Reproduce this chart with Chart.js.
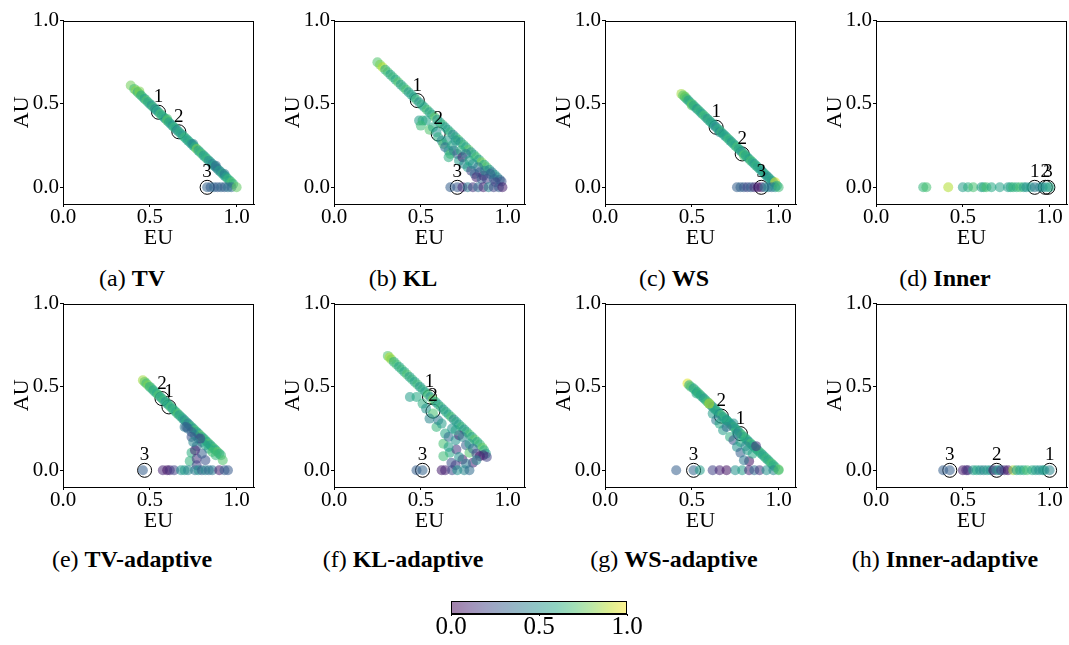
<!DOCTYPE html>
<html>
<head>
<meta charset="utf-8">
<script src="https://cdn.jsdelivr.net/npm/chart.js@4.4.0/dist/chart.umd.min.js"></script>
<style>
  html, body { margin: 0; padding: 0; background: #fff; overflow: hidden; }
  #page { position: relative; width: 1069px; height: 645px; }
  canvas { position: absolute; }
  .cap { position: absolute; width: 260px; text-align: center; font-family: "Liberation Serif", serif;
         font-size: 24px; line-height: 24px; color: #000; white-space: nowrap; }
</style>
</head>
<body>
<div id="page"></div>
<script>
// ---- data: [EU, AU, colour value] per point; marks are the circled samples 1, 2, 3 ----
const axisTicks = [0, 0.5, 1.0];
const colorbarTicks = [0, 0.5, 1.0];

const tvPts = [
  [0.39,0.61,0.78],[0.41,0.59,0.7],[0.42,0.58,0.82],[0.43,0.57,0.62],[0.44,0.56,0.75],[0.44,0.575,0.8],
  [0.45,0.55,0.6],[0.46,0.54,0.68],[0.47,0.53,0.55],[0.48,0.52,0.72],[0.49,0.51,0.58],[0.5,0.5,0.64],
  [0.51,0.49,0.5],[0.52,0.48,0.66],[0.53,0.47,0.45],[0.54,0.46,0.6],[0.55,0.45,0.52],[0.56,0.44,0.7],
  [0.57,0.43,0.58],[0.58,0.42,0.62],[0.59,0.41,0.48],[0.6,0.4,0.74],[0.6,0.41,0.7],[0.61,0.39,0.55],
  [0.62,0.38,0.6],[0.63,0.37,0.5],[0.64,0.36,0.66],[0.65,0.35,0.56],[0.66,0.34,0.45],[0.67,0.33,0.62],
  [0.68,0.32,0.58],[0.69,0.31,0.52],[0.7,0.3,0.66],[0.71,0.29,0.6],[0.72,0.28,0.55],[0.73,0.27,0.62],
  [0.74,0.26,0.5],[0.75,0.25,0.58],[0.75,0.26,0.45],[0.76,0.24,0.64],[0.77,0.23,0.8],[0.78,0.22,0.56],
  [0.79,0.21,0.62],[0.8,0.2,0.7],[0.81,0.19,0.52],[0.82,0.18,0.6],[0.83,0.17,0.66],[0.84,0.16,0.48],
  [0.85,0.15,0.55],[0.86,0.14,0.42],[0.87,0.13,0.6],[0.88,0.12,0.5],[0.88,0.13,0.35],[0.89,0.11,0.38],
  [0.9,0.1,0.56],[0.91,0.09,0.45],[0.92,0.08,0.62],[0.93,0.07,0.52],[0.93,0.08,0.4],[0.94,0.06,0.58],
  [0.95,0.05,0.66],[0.96,0.04,0.6],[0.97,0.03,0.72],[0.98,0.02,0.64],
  [0.83,0,0.32],[0.85,0,0.3],[0.87,0,0.35],[0.89,0,0.28],[0.91,0,0.33],[0.93,0,0.3],[0.95,0,0.38],
  [0.97,0,0.34],[1.0,0,0.75]
];
const tvMarks = [[0.55,0.45],[0.667,0.333],[0.83,0]];

const klPts = [
  [0.25,0.75,0.72],[0.265,0.735,0.8],[0.28,0.72,0.88],[0.295,0.705,0.62],[0.31,0.69,0.7],[0.325,0.675,0.58],
  [0.34,0.66,0.66],[0.355,0.645,0.6],[0.37,0.63,0.72],[0.385,0.615,0.55],[0.4,0.6,0.64],[0.415,0.585,0.7],
  [0.43,0.57,0.52],[0.445,0.555,0.6],[0.46,0.54,0.56],[0.475,0.525,0.66],[0.49,0.51,0.48],[0.505,0.495,0.62],
  [0.52,0.48,0.58],[0.535,0.465,0.7],[0.55,0.45,0.55],[0.565,0.435,0.62],[0.58,0.42,0.74],[0.595,0.405,0.5],
  [0.61,0.39,0.6],[0.625,0.375,0.66],[0.64,0.36,0.52],[0.655,0.345,0.58],[0.67,0.33,0.64],[0.685,0.315,0.45],
  [0.7,0.3,0.6],[0.715,0.285,0.7],[0.73,0.27,0.52],[0.745,0.255,0.66],[0.76,0.24,0.58],[0.775,0.225,0.74],
  [0.79,0.21,0.5],[0.805,0.195,0.62],[0.82,0.18,0.7],[0.835,0.165,0.56],[0.85,0.15,0.8],[0.865,0.135,0.6],
  [0.88,0.12,0.72],[0.895,0.105,0.5],[0.91,0.09,0.4],[0.925,0.075,0.55],[0.94,0.06,0.45],[0.955,0.045,0.35],
  [0.965,0.035,0.25],
  [0.49,0.4,0.55],[0.51,0.4,0.62],[0.53,0.4,0.58],[0.5,0.37,0.68],[0.55,0.345,0.72],[0.57,0.36,0.6],
  [0.59,0.33,0.5],[0.6,0.3,0.62],[0.62,0.28,0.45],[0.63,0.26,0.7],[0.65,0.28,0.55],[0.64,0.24,0.35],
  [0.66,0.22,0.5],[0.67,0.2,0.7],[0.68,0.25,0.6],[0.69,0.22,0.4],[0.7,0.28,0.5],[0.71,0.2,0.3],
  [0.72,0.16,0.55],[0.73,0.22,0.62],[0.74,0.18,0.1],[0.75,0.14,0.45],[0.76,0.2,0.4],[0.77,0.12,0.55],
  [0.78,0.16,0.6],[0.79,0.1,0.2],[0.8,0.14,0.5],[0.81,0.08,0.35],[0.82,0.06,0.1],[0.83,0.12,0.4],
  [0.84,0.09,0.25],[0.85,0.05,0.3],[0.86,0.07,0.15],[0.87,0.1,0.45],[0.88,0.05,0.2],[0.9,0.08,0.3],
  [0.92,0.05,0.35],[0.93,0.03,0.2],[0.66,0.18,0.62],
  [0.67,0,0.3],[0.71,0,0.28],[0.74,0,0.12],[0.77,0,0.4],[0.8,0,0.15],[0.83,0,0.35],[0.86,0,0.1],
  [0.89,0,0.45],[0.92,0,0.2],[0.95,0,0.3],[0.97,0,0.08]
];
const klMarks = [[0.48,0.52],[0.6,0.32],[0.71,0]];

const wsPts = [
  [0.44,0.56,0.85],[0.45,0.55,0.72],[0.46,0.54,0.6],[0.46,0.545,0.8],[0.47,0.53,0.68],[0.48,0.52,0.55],
  [0.49,0.51,0.62],[0.5,0.5,0.7],[0.5,0.49,0.75],[0.51,0.49,0.58],[0.52,0.48,0.64],[0.53,0.47,0.5],
  [0.54,0.46,0.66],[0.55,0.45,0.6],[0.56,0.44,0.55],[0.57,0.43,0.7],[0.58,0.42,0.62],[0.59,0.41,0.48],
  [0.6,0.4,0.64],[0.61,0.39,0.56],[0.62,0.38,0.6],[0.63,0.37,0.52],[0.64,0.36,0.45],[0.65,0.35,0.62],
  [0.66,0.34,0.58],[0.66,0.33,0.45],[0.67,0.33,0.66],[0.68,0.32,0.5],[0.69,0.31,0.6],[0.7,0.3,0.55],
  [0.71,0.29,0.68],[0.72,0.28,0.6],[0.73,0.27,0.52],[0.74,0.26,0.64],[0.75,0.25,0.58],[0.76,0.24,0.7],
  [0.77,0.23,0.55],[0.78,0.22,0.6],[0.79,0.21,0.5],[0.8,0.2,0.66],[0.8,0.19,0.72],[0.81,0.19,0.58],
  [0.82,0.18,0.62],[0.83,0.17,0.55],[0.84,0.16,0.7],[0.85,0.15,0.6],[0.86,0.14,0.52],[0.87,0.13,0.64],
  [0.88,0.12,0.58],[0.89,0.11,0.6],[0.9,0.1,0.55],[0.91,0.09,0.5],[0.92,0.08,0.62],[0.93,0.07,0.56],
  [0.94,0.06,0.45],[0.95,0.05,0.6],[0.96,0.04,0.55],[0.97,0.03,0.52],[0.98,0.03,0.95],[0.99,0.01,0.6],
  [0.76,0,0.3],[0.78,0,0.32],[0.8,0,0.28],[0.82,0,0.22],[0.84,0,0.3],[0.86,0,0.15],[0.88,0,0.05],
  [0.9,0,0.08],[0.92,0,0.4],[0.94,0,0.45],[0.96,0,0.35],[0.98,0,0.5],[1.0,0,0.68]
];
const wsMarks = [[0.64,0.36],[0.79,0.2],[0.9,0]];

const innerPts = [
  [0.272,0,0.65],[0.29,0,0.7],[0.416,0,0.88],[0.5,0,0.55],[0.53,0,0.62],[0.56,0,0.7],[0.607,0,0.55],
  [0.62,0,0.62],[0.636,0,0.7],[0.665,0,0.6],[0.713,0,0.58],[0.76,0,0.55],[0.775,0,0.6],[0.79,0,0.65],
  [0.81,0,0.62],[0.83,0,0.7],[0.85,0,0.58],[0.866,0,0.5],[0.89,0,0.55],[0.914,0,0.4],[0.943,0,0.45],
  [0.96,0,0.5],[0.98,0,0.5],[1.0,0,0.6]
];
const innerMarks = [[0.914,0],[0.975,0],[0.99,0]];

const tvAdPts = [
  [0.46,0.54,0.85],[0.47,0.53,0.75],[0.48,0.52,0.68],[0.49,0.51,0.8],[0.5,0.5,0.62],[0.51,0.49,0.7],
  [0.52,0.48,0.58],[0.53,0.47,0.66],[0.54,0.46,0.6],[0.55,0.45,0.72],[0.56,0.44,0.55],[0.57,0.43,0.62],
  [0.58,0.42,0.68],[0.59,0.41,0.5],[0.6,0.4,0.64],[0.61,0.39,0.58],[0.62,0.38,0.7],[0.63,0.37,0.55],
  [0.64,0.36,0.66],[0.65,0.35,0.6],[0.66,0.34,0.72],[0.67,0.33,0.52],[0.68,0.32,0.64],[0.69,0.31,0.58],
  [0.7,0.3,0.45],[0.71,0.29,0.62],[0.72,0.28,0.4],[0.73,0.27,0.56],[0.74,0.26,0.66],[0.75,0.25,0.5],
  [0.76,0.24,0.7],[0.77,0.23,0.6],[0.78,0.22,0.55],[0.79,0.21,0.75],[0.8,0.2,0.62],[0.81,0.19,0.58],
  [0.82,0.18,0.68],[0.83,0.17,0.6],[0.84,0.16,0.72],[0.85,0.15,0.55],[0.86,0.14,0.64],[0.87,0.13,0.7],
  [0.88,0.12,0.58],[0.89,0.11,0.75],[0.9,0.1,0.62],[0.91,0.09,0.66],[0.92,0.06,0.72],
  [0.7,0.26,0.4],[0.72,0.25,0.35],[0.74,0.23,0.3],[0.76,0.21,0.45],[0.78,0.19,0.4],[0.8,0.17,0.62],
  [0.82,0.15,0.55],[0.84,0.13,0.6],[0.86,0.11,0.7],[0.88,0.09,0.66],
  [0.71,0.26,0.3],[0.74,0.2,0.25],[0.77,0.145,0.32],[0.79,0.19,0.2],[0.74,0.105,0.62],[0.73,0.055,0.64],
  [0.77,0.07,0.15],[0.8,0.1,0.3],[0.77,0.03,0.2],[0.76,0.12,0.1],[0.82,0.06,0.25],[0.75,0.17,0.45],
  [0.46,0,0.3],[0.575,0,0.1],[0.6,0,0.05],[0.615,0,0.12],[0.64,0,0.2],[0.68,0,0.5],[0.7,0,0.55],
  [0.72,0,0.45],[0.76,0,0.4],[0.78,0,0.5],[0.8,0,0.3],[0.82,0,0.45],[0.84,0,0.35],[0.86,0,0.4],
  [0.9,0,0.08],[0.93,0,0.3],[0.95,0,0.28]
];
const tvAdMarks = [[0.61,0.38],[0.57,0.43],[0.47,0]];

const klAdPts = [
  [0.31,0.686,0.72],[0.32,0.676,0.88],[0.33,0.665,0.8],[0.345,0.65,0.62],[0.36,0.635,0.7],[0.375,0.62,0.58],
  [0.39,0.605,0.66],[0.405,0.59,0.6],[0.42,0.575,0.72],[0.435,0.56,0.55],[0.45,0.545,0.64],[0.465,0.53,0.58],
  [0.48,0.515,0.68],[0.495,0.5,0.52],[0.51,0.485,0.62],[0.525,0.47,0.56],[0.54,0.455,0.7],[0.555,0.44,0.5],
  [0.57,0.425,0.78],[0.585,0.41,0.6],[0.6,0.395,0.54],[0.615,0.38,0.66],[0.63,0.365,0.5],[0.645,0.35,0.62],
  [0.66,0.335,0.58],[0.675,0.32,0.7],[0.69,0.305,0.45],[0.705,0.29,0.6],[0.72,0.275,0.55],[0.735,0.26,0.66],
  [0.75,0.245,0.5],[0.765,0.23,0.62],[0.78,0.215,0.7],[0.795,0.2,0.58],[0.81,0.185,0.74],[0.825,0.17,0.6],
  [0.84,0.155,0.66],[0.855,0.135,0.75],[0.865,0.12,0.62],[0.875,0.1,0.55],[0.88,0.08,0.2],
  [0.437,0.44,0.55],[0.475,0.44,0.6],[0.51,0.4,0.62],[0.53,0.37,0.5],[0.57,0.34,0.7],[0.55,0.31,0.45],
  [0.59,0.26,0.65],[0.6,0.3,0.4],[0.62,0.28,0.55],[0.64,0.22,0.6],[0.63,0.16,0.7],[0.66,0.2,0.35],
  [0.68,0.25,0.5],[0.667,0.105,0.6],[0.63,0.085,0.68],[0.676,0.045,0.25],[0.705,0.125,0.15],[0.7,0.18,0.5],
  [0.72,0.21,0.1],[0.74,0.065,0.08],[0.74,0.2,0.45],[0.76,0.15,0.3],[0.78,0.105,0.72],[0.78,0.16,0.55],
  [0.8,0.045,0.1],[0.8,0.13,0.35],[0.82,0.1,0.2],[0.84,0.085,0.05],[0.86,0.09,0.12],[0.72,0.08,0.5],
  [0.7,0.03,0.18],[0.76,0.04,0.4],[0.82,0.06,0.45],[0.66,0.14,0.55],[0.7,0.24,0.58],
  [0.475,0,0.3],[0.51,0,0.32],[0.62,0,0.08],[0.64,0,0.1],[0.68,0,0.22],[0.71,0,0.5],[0.75,0,0.45],
  [0.78,0,0.35]
];
const klAdMarks = [[0.55,0.44],[0.57,0.355],[0.51,0]];

const wsAdPts = [
  [0.475,0.52,0.95],[0.485,0.51,0.6],[0.495,0.5,0.7],[0.51,0.49,0.55],[0.52,0.48,0.66],[0.53,0.47,0.6],
  [0.54,0.46,0.72],[0.55,0.45,0.58],[0.56,0.44,0.64],[0.57,0.43,0.5],[0.58,0.42,0.62],[0.59,0.41,0.7],
  [0.6,0.4,0.55],[0.61,0.39,0.6],[0.62,0.38,0.45],[0.63,0.37,0.66],[0.64,0.36,0.58],[0.65,0.35,0.62],
  [0.66,0.34,0.5],[0.67,0.33,0.7],[0.68,0.32,0.56],[0.69,0.31,0.62],[0.7,0.3,0.48],[0.71,0.29,0.66],
  [0.72,0.28,0.6],[0.73,0.27,0.55],[0.74,0.26,0.72],[0.75,0.25,0.58],[0.76,0.24,0.64],[0.77,0.23,0.5],
  [0.78,0.22,0.62],[0.79,0.21,0.7],[0.8,0.2,0.56],[0.81,0.19,0.66],[0.82,0.18,0.6],[0.83,0.17,0.52],
  [0.84,0.16,0.7],[0.85,0.15,0.6],[0.86,0.14,0.55],[0.87,0.13,0.64],[0.88,0.12,0.58],[0.89,0.11,0.68],
  [0.9,0.1,0.62],[0.91,0.09,0.55],[0.92,0.08,0.6],[0.93,0.07,0.66],[0.94,0.06,0.58],[0.95,0.05,0.64],
  [0.96,0.04,0.7],[0.97,0.03,0.6],[0.98,0.02,0.62],[1.0,0.005,0.75],
  [0.527,0.46,0.6],[0.6,0.4,0.9],[0.62,0.34,0.55],[0.64,0.3,0.4],[0.66,0.28,0.6],[0.68,0.24,0.55],
  [0.7,0.26,0.35],[0.72,0.2,0.62],[0.74,0.28,0.5],[0.74,0.18,0.25],[0.76,0.14,0.5],[0.78,0.105,0.3],
  [0.78,0.17,0.6],[0.81,0.145,0.45],[0.83,0.055,0.05],[0.85,0.1,0.6],[0.87,0.145,0.15],[0.8,0.06,0.4],
  [0.82,0.12,0.55],[0.76,0.22,0.45],[0.7,0.3,0.58],
  [0.41,0,0.3],[0.51,0,0.32],[0.546,0,0.55],[0.62,0,0.2],[0.66,0,0.1],[0.7,0,0.05],[0.75,0,0.5],
  [0.79,0,0.55],[0.83,0,0.1],[0.86,0,0.35],[0.89,0,0.15],[0.93,0,0.5],[0.97,0,0.45],[1.0,0,0.7]
];
const wsAdMarks = [[0.78,0.22],[0.67,0.325],[0.51,0]];

const innerAdPts = [
  [0.387,0,0.3],[0.425,0,0.3],[0.5,0,0.08],[0.52,0,0.1],[0.53,0,0.15],[0.56,0,0.55],[0.58,0,0.6],
  [0.6,0,0.5],[0.62,0,0.45],[0.64,0,0.55],[0.66,0,0.5],[0.675,0,0.08],[0.695,0,0.45],[0.71,0,0.55],
  [0.72,0,0.2],[0.74,0,0.15],[0.76,0,0.05],[0.79,0,0.85],[0.81,0,0.55],[0.83,0,0.6],[0.85,0,0.6],
  [0.87,0,0.7],[0.9,0,0.6],[0.92,0,0.55],[0.94,0,0.5],[0.96,0,0.5],[0.97,0,0.55],[1.0,0,0.45]
];
const innerAdMarks = [[1.0,0],[0.695,0],[0.425,0]];

const panels = [
  { tag: '(a)', name: 'TV', pts: tvPts, marks: tvMarks },
  { tag: '(b)', name: 'KL', pts: klPts, marks: klMarks },
  { tag: '(c)', name: 'WS', pts: wsPts, marks: wsMarks },
  { tag: '(d)', name: 'Inner', pts: innerPts, marks: innerMarks },
  { tag: '(e)', name: 'TV-adaptive', pts: tvAdPts, marks: tvAdMarks },
  { tag: '(f)', name: 'KL-adaptive', pts: klAdPts, marks: klAdMarks },
  { tag: '(g)', name: 'WS-adaptive', pts: wsAdPts, marks: wsAdMarks },
  { tag: '(h)', name: 'Inner-adaptive', pts: innerAdPts, marks: innerAdMarks }
];

// ---- layout ----
const COL_X = [63, 334, 605, 876];   // left edge of each plot area
const ROW_Y = [19, 302];             // top edge of each plot area
const CAP_X = [132, 403, 674, 945];  // caption centres
const CAP_Y = [278, 559];
const FONT = '"Liberation Serif", "DejaVu Serif", serif';

Chart.defaults.font.family = FONT;
Chart.defaults.color = '#000';

const VIRIDIS = ['#440154','#482475','#414487','#355f8d','#2a788e','#21918c','#22a884','#44bf70','#7ad151','#bddf26','#fde725'];
function hexRgb(h) { return [1, 3, 5].map(i => parseInt(h.slice(i, i + 2), 16)); }
function viridis(v, alpha) {
  const t = Math.max(0, Math.min(1, v)) * (VIRIDIS.length - 1);
  const i = Math.min(Math.floor(t), VIRIDIS.length - 2);
  const f = t - i;
  const a = hexRgb(VIRIDIS[i]), b = hexRgb(VIRIDIS[i + 1]);
  const c = a.map((x, k) => Math.round(x + (b[k] - x) * f));
  return `rgba(${c[0]},${c[1]},${c[2]},${alpha})`;
}

const framePlugin = {
  id: 'frame',
  afterDraw(chart) {
    const { ctx, chartArea: a } = chart;
    ctx.save();
    ctx.strokeStyle = '#000';
    ctx.lineWidth = 1;
    ctx.strokeRect(Math.round(a.left) + 0.5, Math.round(a.top) + 0.5,
                   Math.round(a.right - a.left) - 1, Math.round(a.bottom - a.top) - 1);
    ctx.restore();
  }
};

// numbers above the circled samples
const markLabels = {
  id: 'markLabels',
  afterDatasetsDraw(chart) {
    const ctx = chart.ctx;
    chart.data.datasets.forEach((ds, di) => {
      if (!ds.isMark) return;
      ctx.save();
      ctx.font = '19px ' + FONT;
      ctx.fillStyle = '#000';
      ctx.textAlign = 'center';
      ctx.textBaseline = 'middle';
      chart.getDatasetMeta(di).data.forEach((el, i) => {
        ctx.fillText(String(i + 1), el.x, el.y - 15);
      });
      ctx.restore();
    });
  }
};

const page = document.getElementById('page');

function addCanvas(left, top, w, h) {
  const cv = document.createElement('canvas');
  cv.width = w; cv.height = h;
  cv.style.left = left + 'px'; cv.style.top = top + 'px';
  cv.style.width = w + 'px'; cv.style.height = h + 'px';
  page.appendChild(cv);
  return cv;
}

panels.forEach((p, idx) => {
  const row = Math.floor(idx / 4), col = idx % 4;
  const cv = addCanvas(COL_X[col] - 63, ROW_Y[row] - 10, 270, 250);

  new Chart(cv, {
    type: 'scatter',
    data: {
      datasets: [
        {
          data: p.pts.map(d => ({ x: d[0], y: d[1] })),
          backgroundColor: p.pts.map(d => viridis(d[2], 0.55)),
          borderWidth: 0,
          pointRadius: 5
        },
        {
          isMark: true,
          data: p.marks.map(d => ({ x: d[0], y: d[1] })),
          backgroundColor: 'rgba(0,0,0,0)',
          borderColor: '#000',
          borderWidth: 1,
          pointRadius: 7
        }
      ]
    },
    options: {
      responsive: false,
      animation: false,
      events: [],
      layout: { padding: { left: 0, top: 10, right: 16, bottom: 0 } },
      plugins: { legend: { display: false }, tooltip: { enabled: false } },
      scales: {
        x: {
          type: 'linear', min: 0, max: 1.1,
          afterBuildTicks: s => { s.ticks = axisTicks.map(v => ({ value: v })); },
          afterFit: s => { s.height = 55; },
          ticks: { font: { size: 21, lineHeight: 1 }, padding: 0, maxRotation: 0, autoSkip: false,
                   callback: v => v.toFixed(1) },
          grid: { drawOnChartArea: false, tickLength: 3, color: '#000' },
          border: { color: '#000', width: 1 },
          title: { display: true, text: 'EU', font: { size: 22, lineHeight: 1 }, padding: { top: 0, bottom: 10 } }
        },
        y: {
          type: 'linear', min: -0.1, max: 1.0,
          afterBuildTicks: s => { s.ticks = axisTicks.map(v => ({ value: v })); },
          afterFit: s => { s.width = 63; },
          ticks: { font: { size: 21, lineHeight: 1 }, padding: 1, autoSkip: false,
                   callback: v => v.toFixed(1) },
          grid: { drawOnChartArea: false, tickLength: 3, color: '#000' },
          border: { color: '#000', width: 1 },
          title: { display: true, text: 'AU', font: { size: 22, lineHeight: 1 }, padding: { top: 11, bottom: 0 } }
        }
      }
    },
    plugins: [framePlugin, markLabels]
  });

  const cap = document.createElement('div');
  cap.className = 'cap';
  cap.style.left = (CAP_X[col] - 130) + 'px';
  cap.style.top = (CAP_Y[row] - 12) + 'px';
  cap.innerHTML = p.tag + ' <b>' + p.name + '</b>';
  page.appendChild(cap);
});

// ---- colour bar ----
const gradientPlugin = {
  id: 'gradient',
  beforeDatasetsDraw(chart) {
    const { ctx, chartArea: a } = chart;
    const g = ctx.createLinearGradient(a.left, 0, a.right, 0);
    VIRIDIS.forEach((c, i) => g.addColorStop(i / (VIRIDIS.length - 1), viridis(i / (VIRIDIS.length - 1), 0.5)));
    ctx.save();
    ctx.fillStyle = g;
    ctx.fillRect(a.left, a.top, a.right - a.left, a.bottom - a.top);
    ctx.restore();
  }
};

const cb = addCanvas(431, 591, 216, 54);
new Chart(cb, {
  type: 'scatter',
  data: { datasets: [{ data: [] }] },
  options: {
    responsive: false,
    animation: false,
    events: [],
    layout: { padding: { left: 20, right: 20, top: 10, bottom: 0 } },
    plugins: { legend: { display: false }, tooltip: { enabled: false } },
    scales: {
      x: {
        type: 'linear', min: 0, max: 1,
        afterBuildTicks: s => { s.ticks = colorbarTicks.map(v => ({ value: v })); },
        afterFit: s => { s.height = 31; },
        ticks: { font: { size: 25, lineHeight: 1 }, padding: -1, maxRotation: 0, autoSkip: false,
                 callback: v => v.toFixed(1) },
        grid: { drawOnChartArea: false, tickLength: 2, color: '#000' },
        border: { color: '#000', width: 1 }
      },
      y: { display: false, min: 0, max: 1 }
    }
  },
  plugins: [gradientPlugin, framePlugin]
});
</script>
</body>
</html>
